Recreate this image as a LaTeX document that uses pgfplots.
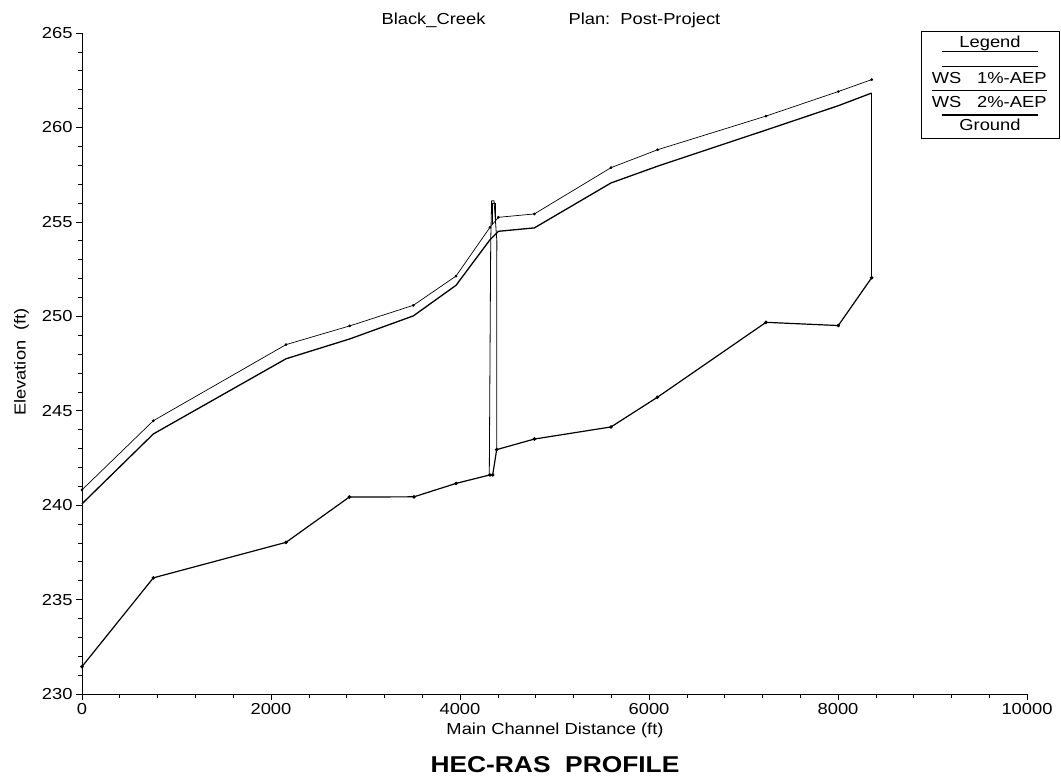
\documentclass[border=0pt]{standalone}
\usepackage{fontspec}
\setmainfont{Liberation Sans}[FakeStretch=1.15]
\usepackage{pgfplots}
\pgfplotsset{compat=1.18}
\begin{document}
\begin{tikzpicture}
\path[use as bounding box] (-82bp,-88bp) rectangle (979bp,694bp);
\begin{axis}[
  at={(0,0)}, anchor=south west,
  scale only axis, width=945bp, height=661bp,
  xmin=0, xmax=10000, ymin=230, ymax=265,
  axis lines*=left,
  axis line style={line width=0.8bp, black},
  xtick={0,2000,...,10000}, ytick={230,235,...,265},
  scaled x ticks=false, scaled y ticks=false,
  minor x tick num=4, minor y tick num=4,
  tick align=outside,
  major tick length=6bp, minor tick length=3.5bp,
  tick style={black, line width=0.6bp},
  /pgf/number format/assume math mode=true,
  /pgf/number format/1000 sep={},
  tick label style={font=\fontsize{16}{19}\selectfont},
  clip=false,
]
% WS 1%-AEP
\addplot[black, line width=0.7bp, mark=*, mark size=1bp] coordinates {
(0,240.81)(755,244.47)(2159,248.5)(2833,249.49)(3506,250.58)(3958,252.13)(4317,254.71)(4406,255.24)(4787,255.42)(5598,257.87)(6092,258.82)(7238,260.6)(8003,261.9)(8356,262.53)};
% WS 2%-AEP
\addplot[black, line width=1.3bp] coordinates {
(0,240.07)(755,243.77)(2159,247.75)(2833,248.8)(3506,250.02)(3958,251.64)(4317,254.05)(4406,254.5)(4787,254.68)(5598,257.06)(6092,257.95)(7238,259.86)(8003,261.15)(8356,261.82)};
% Ground
\addplot[black, line width=1.2bp, mark=*, mark size=1.1bp] coordinates {
(0,231.45)(755,236.15)(2159,238.03)(2829,240.43)(3513,240.44)(3958,241.15)(4317,241.6)(4346,241.6)(4388,242.94)(4787,243.5)(5598,244.14)(6088,245.71)(7238,249.68)(8003,249.51)(8356,252.04)};
% Culvert
\addplot[black, line width=0.8bp] coordinates {
(4310,241.6)(4325,254.0)(4335,256.12)(4360,256.12)(4390,254.0)(4388,242.94)};
\addplot[black, line width=0.6bp] coordinates {
(4345,254.9)(4345,256.0)(4370,256.0)(4370,254.9)};
% downstream end
\addplot[black, line width=1bp] coordinates {(8356,261.82)(8356,252.04)};
\end{axis}
% titles and labels
\node[anchor=west, font=\fontsize{16}{19}\selectfont] at (296bp,674bp) {Black\_Creek};
\node[anchor=west, font=\fontsize{16}{19}\selectfont] at (483bp,674bp) {Plan:\ \ Post-Project};
\node[font=\fontsize{16}{19}\selectfont] at (473bp,-36bp) {Main\ Channel\ Distance\ (ft)};
\node[font=\fontsize{23}{27}\selectfont\bfseries] at (473bp,-71bp) {HEC-RAS\ \ PROFILE};
\node[rotate=90, font=\fontsize{16}{19}\selectfont] at (-60.5bp,332bp) {Elevation\ \ (ft)};
% legend
\begin{scope}[font=\fontsize{16}{19}\selectfont]
\draw[line width=0.6bp] (839bp,556bp) rectangle (977bp,663bp);
\node at (908bp,650.7bp) {Legend};
\draw[line width=0.6bp] (859.7bp,642.3bp) -- (956.3bp,642.3bp);
\draw[line width=0.7bp] (859.7bp,627.3bp) -- (956.3bp,627.3bp);
\node[anchor=west, inner sep=0] at (849.7bp,615.7bp) {WS};
\node[anchor=east, inner sep=0] at (964.7bp,615.7bp) {1\%-AEP};
\draw[line width=1.3bp] (849.7bp,603.3bp) -- (964.7bp,603.3bp);
\node[anchor=west, inner sep=0] at (849.7bp,592.3bp) {WS};
\node[anchor=east, inner sep=0] at (964.7bp,592.3bp) {2\%-AEP};
\draw[line width=1.2bp] (859.7bp,579bp) -- (956.3bp,579bp);
\node at (908bp,569bp) {Ground};
\end{scope}
\end{tikzpicture}
\end{document}
